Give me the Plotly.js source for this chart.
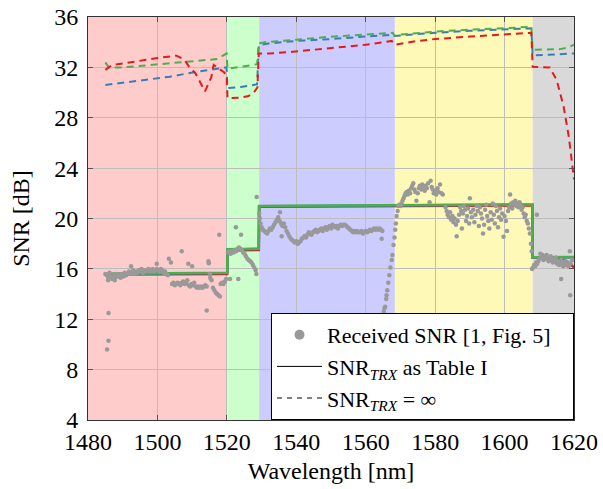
<!DOCTYPE html>
<html>
<head>
<meta charset="utf-8">
<script src="https://cdn.plot.ly/plotly-3.0.1.min.js"></script>
<style>
html,body{margin:0;padding:0;background:#fff;}
#chart{width:603px;height:489px;}
</style>
</head>
<body>
<div id="chart"></div>
<script>
// ---- Data ----
const bandStart = [1480, 1520.1, 1529.3, 1568.4, 1608.1];
const bandEnd   = [1520.1, 1529.3, 1568.4, 1608.1, 1620];

const receivedWl = [
1485.0,1485.4,1485.8,1486.2,1486.6,1487.0,1487.4,1487.8,1488.2,1488.6,1489.0,1489.4,1489.8,1490.2,1490.6,1491.0,1491.4,1491.8,1492.2,1492.6,1493.0,1493.4,1493.8,1494.2,1494.6,1495.0,1495.4,1495.8,1496.2,1496.6,1497.0,1497.4,1497.8,1498.2,1498.6,1499.0,1499.4,1499.8,1500.2,1500.6,1501.0,1501.4,1501.8,1502.2,1502.6,1503.0,
1485.9,1485.9,1485.5,1485.8,1487.7,1492.4,1499.8,1503.3,1503.9,1507.0,1508.9,1510.0,1514.7,1514.8,1515.1,1514.2,1517.8,
1504.2,1504.6,1505.0,1505.4,1505.8,1506.2,1506.6,1507.0,1507.4,1507.8,1508.2,1508.6,1509.0,1509.4,1509.8,1510.2,1510.6,1511.0,1511.4,1511.8,1512.2,1512.6,1513.0,1513.4,1513.8,1514.2,
1515.2,1515.6,1516.0,1516.4,1516.8,1517.2,1517.6,1518.0,1518.2,1518.6,1519.0,1519.4,1519.8,1520.9,1523.3,
1520.3,1520.7,1521.1,1521.5,1521.9,1522.3,1522.7,1523.1,1523.5,1523.9,1524.3,1524.7,1525.1,1525.5,1525.9,1526.3,1526.7,1527.1,1527.5,1527.9,1528.3,1528.5,1522.6,1524.1,1528.6,
1529.3,1529.5,1529.7,1530.0,1530.4,1530.8,1531.2,1531.6,1532.0,1532.4,1532.8,1533.2,1533.6,1534.0,1534.4,1534.8,1535.2,1535.3,1535.6,1536.0,1536.4,1536.8,1535.8,1537.2,1537.6,1538.0,1538.4,1538.8,1539.2,1539.6,1540.0,1540.4,1540.8,1541.2,1541.6,1542.0,1542.4,1542.8,1543.2,1543.6,1544.0,1544.4,1544.8,1545.2,1545.6,1546.0,1546.4,1546.8,1547.2,1547.6,1548.0,1548.4,1548.8,1549.2,1549.6,1550.0,1550.4,1550.8,1551.2,1551.6,1552.0,1552.4,1552.8,1553.2,1553.6,1554.0,1554.4,1554.8,1555.2,1555.6,1556.0,1556.4,1556.8,1557.2,1557.6,1558.0,1558.4,1558.8,1559.2,1559.6,1560.0,1560.4,1560.8,1561.2,1561.6,1562.0,1562.4,1562.8,1563.2,1563.6,1564.0,1564.4,1564.8,1564.6,
1565.1,1565.2,1565.4,1565.6,1565.9,1566.0,1566.2,1566.5,1566.8,1567.1,1567.5,1567.7,1568.0,1568.3,1568.5,1568.7,1568.9,1569.2,1569.4,1569.7,1570.0,1570.3,1570.6,1570.9,1571.2,1571.5,1571.8,1572.1,1572.4,1572.8,1573.1,1573.4,1573.7,1574.0,1574.3,1574.6,1575.0,1575.3,1575.6,1576.0,1576.3,1576.6,1577.0,1577.3,1577.6,1578.0,1578.4,1578.7,1579.0,1579.3,1579.6,1580.0,1580.3,1580.7,1581.0,1581.4,1581.8,1582.2,
1583.0,1583.3,1583.6,1584.0,1584.3,1584.6,1585.0,1585.3,1585.6,1586.0,1586.2,1586.5,1586.9,1587.2,1587.5,1587.7,1588.0,1588.3,1588.6,1588.9,1589.2,1589.5,1589.8,1590.0,1590.3,1590.6,1591.0,1591.3,1591.6,1592.0,1592.3,1592.6,1592.9,1593.2,1593.5,1593.8,1594.1,1594.4,1594.7,1595.0,1595.3,1595.6,1596.0,1596.3,1596.6,1596.9,1597.2,1597.5,1597.8,1598.1,1598.4,1598.7,1599.0,1599.3,1599.7,1600.0,1600.4,1600.7,1601.0,1601.3,1601.6,1601.9,1602.2,1602.5,1602.8,1603.1,1603.4,1603.7,1604.0,1604.3,1604.6,1604.9,1605.2,1605.5,1605.8,1606.1,1606.4,1606.7,1607.0,1607.3,1607.6,1607.8,1609.3,
1607.9,1608.2,1608.5,1608.8,1609.1,1609.4,1609.7,1610.0,1610.3,1610.6,1610.9,1611.2,1611.5,1611.8,1612.1,1612.4,1612.7,1613.0,1613.3,1613.6,1613.9,1614.2,1614.5,1614.8,1615.1,1615.4,1615.7,1616.0,1616.3,1616.6,1616.9,1617.2,1617.5,1617.8,1618.1,1618.4,1618.8,1619.0,1619.4,1616.3,1618.9
];
const receivedSnr = [
15.6,15.5,15.3,15.7,15.4,15.2,15.5,15.3,15.6,15.4,15.5,15.3,15.6,15.4,15.7,15.5,15.6,15.8,15.6,15.7,15.9,15.6,15.8,15.7,15.9,15.8,16.0,15.7,15.9,15.8,15.9,16.0,15.8,15.9,16.0,15.8,15.9,16.0,15.9,15.8,16.0,15.9,15.7,15.8,15.6,15.5,
12.5,10.3,9.6,15.1,15.1,16.2,16.4,16.8,16.5,17.4,16.4,16.2,16.6,16.45,15.6,12.7,18.7,
14.8,14.9,14.7,14.8,14.9,14.8,14.7,14.9,15.0,14.8,14.9,15.1,14.7,14.6,14.8,14.7,14.9,14.6,14.5,14.6,14.5,14.6,14.5,14.6,14.7,14.6,
15.3,15.1,14.5,14.3,14.1,14.0,13.9,13.8,14.8,14.9,14.8,15.0,15.2,15.2,15.2,
17.3,17.4,17.2,17.4,17.3,17.5,17.4,17.6,17.7,17.6,17.5,17.3,17.2,17.0,16.8,16.7,16.6,16.5,16.3,16.1,15.9,15.6,19.3,18.7,21.7,
20.4,20.0,19.6,19.3,19.1,19.0,18.9,18.8,19.0,19.2,19.1,19.3,19.5,19.7,19.9,20.1,19.8,20.5,19.6,19.4,19.6,19.3,18.6,19.0,18.8,18.6,18.4,18.3,18.2,18.1,18.2,18.0,18.1,18.2,18.4,18.5,18.6,18.5,18.7,18.9,18.8,18.7,18.9,19.0,19.1,18.9,19.0,19.1,19.2,19.0,19.2,19.3,19.1,19.3,19.4,19.2,19.5,19.4,19.3,19.4,19.2,19.4,19.5,19.4,19.5,19.5,19.4,19.3,19.2,19.1,19.0,18.9,19.0,18.9,19.0,18.9,18.9,19.0,18.8,18.9,19.0,18.9,19.0,19.1,19.0,19.1,19.2,19.1,19.2,19.1,19.2,19.1,19.0,18.4,
12.3,12.6,12.9,13.0,13.6,13.9,14.3,14.9,15.5,16.1,16.7,17.1,17.9,18.5,19.1,19.6,20.2,20.6,21.0,21.1,21.0,21.2,21.4,21.6,21.8,22.0,22.1,21.9,22.2,22.0,22.4,22.6,22.8,22.3,22.1,21.4,22.0,22.4,22.6,22.3,22.7,22.5,22.2,22.6,22.4,22.8,21.3,23.0,22.5,22.3,22.0,22.2,21.9,22.4,22.1,22.7,22.0,21.9,
20.9,20.6,20.3,20.1,20.5,19.9,20.2,19.7,20.0,19.5,18.6,19.8,20.3,20.9,20.6,19.2,20.4,21.0,20.7,19.8,20.2,20.8,19.6,21.6,20.5,20.1,20.7,19.7,20.3,21.0,20.6,19.4,20.9,20.4,20.0,18.8,19.5,20.7,21.1,20.2,19.8,19.2,20.5,19.9,21.2,20.3,19.6,21.0,20.6,19.3,20.1,20.8,19.9,20.4,18.55,20.2,19.8,19.0,20.6,20.9,21.9,21.2,20.8,21.3,21.1,21.4,21.0,21.2,20.9,21.3,21.0,20.7,20.9,20.4,20.1,20.3,19.8,19.6,19.2,18.8,18.0,17.4,20.3,
16.0,16.1,16.3,16.2,16.5,16.4,16.6,16.8,17.2,16.9,17.1,16.7,17.0,16.8,17.1,16.9,16.6,16.8,17.0,16.7,16.5,16.8,16.6,16.9,16.4,16.6,16.3,16.5,16.7,16.4,16.2,16.5,16.6,16.3,16.5,16.2,17.4,16.4,16.7,15.2,13.9
];

// SNR_TRX as Table I (solid)
const tableWl       = [1485, 1500, 1520.1, 1520.2, 1529.2, 1529.3, 1550, 1568, 1590, 1608.0, 1608.1, 1614, 1620];
const tableSnrGreen = [15.62, 15.66, 15.7, 17.55, 17.6, 21.0, 21.03, 21.06, 21.09, 21.12, 16.92, 16.93, 16.95];
const tableSnrBlue  = [15.6, 15.64, 15.68, 17.53, 17.58, 20.98, 21.01, 21.04, 21.07, 21.1, 16.9, 16.9, 16.9];
const tableRedWl    = [1485, 1500, 1520.1, 1520.2, 1529.2, 1529.3, 1550, 1568, 1590, 1608.0, 1608.1, 1614, 1616, 1618, 1619, 1620];
const tableSnrRed   = [15.55, 15.58, 15.6, 17.45, 17.5, 20.93, 20.96, 20.99, 21.02, 21.05, 16.9, 16.9, 16.8, 16.6, 16.4, 16.1];

// SNR_TRX = infinity (dashed)
const infGreenWl  = [1485, 1486, 1490.2, 1501.7, 1508.4, 1517.1, 1519.9, 1520.2, 1524, 1528.7, 1529.2, 1531, 1540, 1550, 1560, 1567.8, 1568.3, 1570, 1580, 1590, 1600, 1607.7, 1608.1, 1612, 1616, 1618, 1620];
const infGreenSnr = [32.4, 32.0, 32.0, 32.27, 32.4, 32.66, 33.1, 31.9, 32.05, 32.25, 33.9, 34.0, 34.2, 34.44, 34.6, 34.75, 34.5, 34.6, 34.84, 35.0, 35.1, 35.23, 33.4, 33.4, 33.45, 33.55, 33.8];
const infBlueWl   = [1485, 1493, 1503.6, 1511.3, 1519.9, 1520.2, 1524, 1528.7, 1529.2, 1532, 1540, 1550, 1560, 1567.8, 1568.3, 1575, 1580, 1590, 1600, 1607.7, 1608.1, 1614, 1620];
const infBlueSnr  = [30.6, 30.86, 31.26, 31.66, 32.0, 30.35, 30.45, 30.65, 33.75, 33.9, 34.1, 34.25, 34.45, 34.6, 34.5, 34.65, 34.75, 34.9, 35.0, 35.1, 32.95, 33.0, 33.1];
const infRedWl    = [1485, 1487, 1490, 1495, 1500, 1505.5, 1507.8, 1509, 1511, 1513.7, 1515.5, 1516.2, 1519, 1519.9, 1520.2, 1524, 1526, 1527.6, 1528.8, 1529.2, 1532.4, 1539, 1552.6, 1560, 1567.5, 1568.3, 1575, 1580, 1590, 1600, 1607.7, 1608.1, 1610, 1613, 1615, 1617, 1618.5, 1620];
const infRedSnr   = [31.8, 32.2, 32.3, 32.55, 32.75, 32.93, 32.6, 32.1, 31.5, 30.1, 31.2, 32.2, 31.65, 31.4, 29.55, 29.6, 29.7, 29.94, 30.4, 33.1, 33.1, 33.24, 33.6, 33.8, 34.1, 33.8, 34.1, 34.25, 34.45, 34.6, 34.75, 32.05, 32.05, 32.0, 31.0, 28.9, 26.5, 23.1];

const xTicks = [1480, 1500, 1520, 1540, 1560, 1580, 1600, 1620];
const yTicks = [4, 8, 12, 16, 20, 24, 28, 32, 36];

// ---- Styles ----
const bandColors = ['#ffcccc', '#ccffcc', '#ccccff', '#fff9b8', '#d9d9d9'];
const cRed = '#e41a1c', cBlue = '#377eb8', cGreen = '#4daf4a';
const dashPat = '7px,5px';
const FAM = '"Liberation Serif", "Times New Roman", serif';

function mkFont(sz) { return {family: FAM, size: sz, color: '#000'}; }

const traces = [
  // legend-only entries
  {x:[null], y:[null], type:'scatter', mode:'markers', name:'Received SNR [1, Fig. 5]\u00a0\u00a0\u00a0',
   marker:{color:'#999999', size:10}},
  {x:[null], y:[null], type:'scatter', mode:'lines', name:'SNR<sub><i>TRX</i></sub> as Table I',
   line:{color:'#000', width:1}},
  {x:[null], y:[null], type:'scatter', mode:'lines', name:'SNR<sub><i>TRX</i></sub> = ∞',
   line:{color:'#000', width:1, dash:'5px,5px'}},
  // dashed
  {x:infBlueWl, y:infBlueSnr, mode:'lines', showlegend:false, line:{color:cBlue, width:2, dash:dashPat}},
  {x:infGreenWl, y:infGreenSnr, mode:'lines', showlegend:false, line:{color:cGreen, width:2, dash:dashPat}},
  {x:infRedWl, y:infRedSnr, mode:'lines', showlegend:false, line:{color:cRed, width:2, dash:dashPat}},
  // solid
  {x:tableRedWl, y:tableSnrRed, mode:'lines', showlegend:false, line:{color:cRed, width:2.5}},
  {x:tableWl, y:tableSnrBlue, mode:'lines', showlegend:false, line:{color:cBlue, width:2.5}},
  {x:tableWl, y:tableSnrGreen, mode:'lines', showlegend:false, line:{color:cGreen, width:2.5}},
  // received points
  {x:receivedWl, y:receivedSnr, mode:'markers', showlegend:false, marker:{color:'#999999', size:4.5}}
];

const shapes = bandStart.map((s, i) => ({
  type:'rect', xref:'x', yref:'paper', x0:s, x1:bandEnd[i], y0:0, y1:1,
  fillcolor:bandColors[i], line:{width:0}, layer:'below'
}));

const layout = {
  width:603, height:489,
  margin:{l:88, r:29, t:17, b:69},
  paper_bgcolor:'#fff', plot_bgcolor:'#fff',
  showlegend:true,
  shapes:shapes,
  font:mkFont(22),
  xaxis:{
    showline:true, linecolor:'#333', linewidth:1, mirror:'allticks',
    ticks:'inside', ticklen:5, tickcolor:'#555', tickwidth:1,
    showgrid:true, gridcolor:'#bdbdbd', gridwidth:1, zeroline:false,
    tickfont:mkFont(24),
    range:[1480, 1620], tickvals:xTicks, ticktext:xTicks.map(String),
    title:{text:'Wavelength [nm]', font:mkFont(24), standoff:8}
  },
  yaxis:{
    showline:true, linecolor:'#333', linewidth:1, mirror:'allticks',
    ticks:'inside', ticklen:5, tickcolor:'#555', tickwidth:1,
    showgrid:true, gridcolor:'#bdbdbd', gridwidth:1, zeroline:false,
    tickfont:mkFont(24),
    range:[4, 36], tickvals:yTicks, ticktext:yTicks.map(String), ticklabelstandoff:4,
    title:{text:'SNR [dB]', font:mkFont(24), standoff:17}
  },
  legend:{
    x:1, y:0, xanchor:'right', yanchor:'bottom',
    bgcolor:'#fff', bordercolor:'#000', borderwidth:1,
    font:mkFont(22), itemwidth:45,
    tracegroupgap:0
  }
};

Plotly.newPlot('chart', traces, layout, {displayModeBar:false, staticPlot:true});
</script>
</body>
</html>
